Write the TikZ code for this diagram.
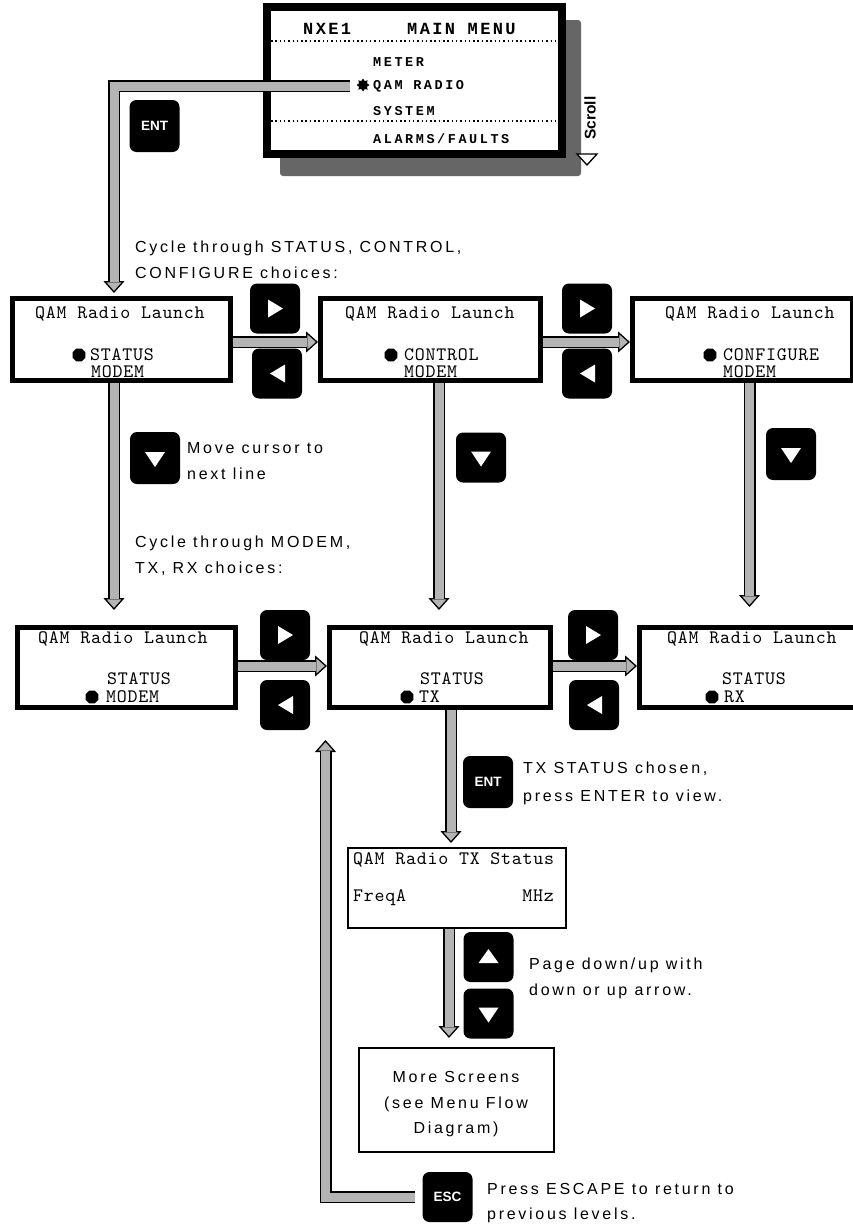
\documentclass[tikz,border=0pt]{standalone}
\usepackage{fontspec}
\setmainfont{Liberation Sans}
\newfontfamily\menuf[LetterSpace=14]{Liberation Mono}
\newfontfamily\itemf[LetterSpace=19]{Liberation Mono}
\newfontfamily\labf[LetterSpace=17]{Liberation Sans}
\newfontfamily\lcd[Extension=.otf, LetterSpace=4]{lmmono10-regular}
\usetikzlibrary{arrows.meta,shapes.geometric,calc}
\definecolor{shaft}{RGB}{180,180,180}
\definecolor{shadowgray}{RGB}{102,102,102}
\begin{document}
\begin{tikzpicture}[x=1pt,y=-1pt,
  screen/.style={draw, line width=5pt, fill=white, inner sep=0},
  thinbox/.style={draw, line width=2pt, fill=white, inner sep=0},
  lcdtext/.style={font=\lcd\fontsize{19}{21}\selectfont, inner sep=0, anchor=base west},
  menutitle/.style={font=\menuf\bfseries\fontsize{17}{20}\selectfont, inner sep=0, anchor=base west},
  menuitem/.style={font=\itemf\bfseries\fontsize{13.5}{16}\selectfont, inner sep=0, anchor=base west},
  lab/.style={font=\labf\fontsize{16}{18}\selectfont, inner sep=0, anchor=base west},
  labc/.style={font=\labf\fontsize{16}{18}\selectfont, inner sep=0, anchor=base},
  keyb/.style={fill=black, rounded corners=7pt, minimum width=50pt, minimum height=50pt, inner sep=0, text=white, font=\bfseries\fontsize{13.5}{14}\selectfont},
  rkey/.style={keyb, path picture={\fill[white,sharp corners] ($(path picture bounding box.center)+(-7,-9)$) -- ++(15,9) -- ++(-15,9) -- cycle;}},
  lkey/.style={keyb, path picture={\fill[white,sharp corners] ($(path picture bounding box.center)+(8,-9)$) -- ++(-15,9) -- ++(15,9) -- cycle;}},
  dkey/.style={keyb, path picture={\fill[white,sharp corners] ($(path picture bounding box.center)+(-10,-6)$) -- ++(20,0) -- ++(-10,15) -- cycle;}},
  ukey/.style={keyb, path picture={\fill[white,sharp corners] ($(path picture bounding box.center)+(-10,6)$) -- ++(20,0) -- ++(-10,-14) -- cycle;}},
  bul/.style={regular polygon, regular polygon sides=8, fill=black, minimum size=14pt, inner sep=0},
  mbul/.style={star, star points=8, star point ratio=1.5, fill=black, minimum size=13pt, inner sep=0},
  fat/.style={draw=black, line width=12pt, line join=miter,
    -{Triangle[width=21pt,length=12pt,line width=1.3pt,fill=shaft]},
    postaction={draw=shaft, line width=9pt, -, shorten >=11pt}},
  dotline/.style={line width=1.5pt, dash pattern=on 1.5pt off 2.8pt}
]
\useasboundingbox (0,0) rectangle (852,1226);
\fill[white] (0,0) rectangle (852,1226);

% ---------- main menu ----------
\fill[shadowgray, rounded corners=3pt] (280,20) rectangle (581,176);
\node[draw, line width=8pt, fill=white, inner sep=0, minimum width=295pt, minimum height=147pt] (mm) at (414.5,80.5) {};
\draw[dotline] ($(mm.north west)+(8,38)$) -- ($(mm.north east)+(-8,38)$);
\draw[dotline] ($(mm.north west)+(8,118)$) -- ($(mm.north east)+(-8,118)$);
\node[menutitle] (tnxe) at (303,34) {NXE1};
\node[menutitle] (tmain) at (407,34) {MAIN MENU};
\node[menuitem] (imeter) at (373,66) {METER};
\node[menuitem] (iqam) at (373,89) {QAM RADIO};
\node[menuitem] (isys) at (373,115) {SYSTEM};
\node[menuitem] (ialarm) at (373,143) {ALARMS/FAULTS};
\node[mbul] (mb) at (363,85) {};
\node[rotate=90, inner sep=0, font=\bfseries\fontsize{15.5}{16}\selectfont] (scroll) at (590,118) {Scroll};
\draw[line width=1.3pt, fill=white] (577,154) -- (597,154) -- (587,165) -- cycle;

\node[keyb, minimum height=52pt] (kent1) at (154.5,126) {ENT};

% ---------- row 1 screens ----------
\node[screen, minimum width=218pt, minimum height=82pt] (B1) at (121.5,339.5) {};
\node[screen, minimum width=220pt, minimum height=82pt] (B2) at (430.5,339.5) {};
\node[screen, minimum width=220pt, minimum height=82pt] (B3) at (742.5,339.5) {};
\node[lcdtext] (b1t) at (35,318) {QAM Radio Launch};
\node[lcdtext] (b1a) at (90,360) {STATUS};
\node[lcdtext] (b1b) at (91,377) {MODEM};
\node[bul] (b1c) at (79,355) {};
\node[lcdtext] (b2t) at (345,318) {QAM Radio Launch};
\node[lcdtext] (b2a) at (404,360) {CONTROL};
\node[lcdtext] (b2b) at (404,377) {MODEM};
\node[bul] (b2c) at (391,355) {};
\node[lcdtext] (b3t) at (665,318) {QAM Radio Launch};
\node[lcdtext] (b3a) at (723,360) {CONFIGURE};
\node[lcdtext] (b3b) at (723,377) {MODEM};
\node[bul] (b3c) at (710,355) {};

% ---------- row 2 screens ----------
\node[screen, minimum width=218pt, minimum height=80pt] (B4) at (126.5,667.5) {};
\node[screen, minimum width=221pt, minimum height=80pt] (B5) at (440,667.5) {};
\node[screen, minimum width=220pt, minimum height=80pt] (B6) at (749.5,667.5) {};
\node[lcdtext] (b4t) at (38,643) {QAM Radio Launch};
\node[lcdtext] (b4a) at (107,684) {STATUS};
\node[lcdtext] (b4b) at (106,702) {MODEM};
\node[bul] (b4c) at (92,697) {};
\node[lcdtext] (b5t) at (359,643) {QAM Radio Launch};
\node[lcdtext] (b5a) at (420,684) {STATUS};
\node[lcdtext] (b5b) at (419,702) {TX};
\node[bul] (b5c) at (407,697) {};
\node[lcdtext] (b6t) at (667,643) {QAM Radio Launch};
\node[lcdtext] (b6a) at (722,684) {STATUS};
\node[lcdtext] (b6b) at (724,702) {RX};
\node[bul] (b6c) at (712,697) {};

% ---------- status / more ----------
\node[thinbox, minimum width=218pt, minimum height=80pt] (st) at (457,888) {};
\node[lcdtext] (stt) at (353,864) {QAM Radio TX Status};
\node[lcdtext] (stf) at (353,901) {FreqA};
\node[lcdtext, anchor=base east] (stm) at (554,901) {MHz};
\node[thinbox, minimum width=195pt, minimum height=104pt] (more) at (456.5,1100) {};
\node[labc] (m1) at (456,1082) {More Screens};
\node[labc] (m2) at (456,1108) {(see Menu Flow};
\node[labc] (m3) at (456,1133) {Diagram)};

% ---------- keys ----------
\node[rkey] (kr1) at (275,308.5) {};
\node[lkey] (kl1) at (277,373.5) {};
\node[rkey] (kr2) at (587,308.5) {};
\node[lkey] (kl2) at (587,373.5) {};
\node[dkey, minimum height=52pt] (kd1) at (155,458) {};
\node[dkey] (kd2) at (481,457.5) {};
\node[dkey, minimum height=52pt] (kd3) at (791,454) {};
\node[rkey] (kr3) at (285,635) {};
\node[lkey] (kl3) at (285,705) {};
\node[rkey] (kr4) at (593,635) {};
\node[lkey] (kl4) at (594,705) {};
\node[keyb, minimum height=52pt] (kent2) at (488,782) {ENT};
\node[ukey] (ku) at (488.5,957) {};
\node[dkey] (kdn) at (488.5,1013.5) {};
\node[keyb] (kesc) at (447.5,1197) {ESC};

% ---------- labels ----------
\node[lab] (l1a) at (135,252) {Cycle through STATUS, CONTROL,};
\node[lab] (l1b) at (135,278) {CONFIGURE choices:};
\node[lab] (l2a) at (187,453) {Move cursor to};
\node[lab] (l2b) at (187,479) {next line};
\node[lab] (l3a) at (135,547) {Cycle through MODEM,};
\node[lab] (l3b) at (135,573) {TX, RX choices:};
\node[lab] (l4a) at (523,773) {TX STATUS chosen,};
\node[lab] (l4b) at (523,801) {press ENTER to view.};
\node[lab] (l5a) at (529,969) {Page down/up with};
\node[lab] (l5b) at (529,995) {down or up arrow.};
\node[lab] (l6a) at (487,1194) {Press ESCAPE to return to};
\node[lab] (l6b) at (487,1219) {previous levels.};

% ---------- connectors ----------
\coordinate (c1) at (114,0);
\coordinate (c2) at (439,0);
\coordinate (c3) at (749.5,0);
\coordinate (c5) at (451,0);
\coordinate (c6) at (449,0);
\coordinate (ce) at (325.5,0);
\coordinate (r1) at (0,342);
\coordinate (r2) at (0,666);

\draw[fat] ($(iqam.base west)+(-23,-3)$) -| ($(B1.north -| c1)+(0,-3)$);
\draw[fat] (B1.south -| c1) -- ($(B4.north -| c1)+(0,-15)$);
\draw[fat] (B2.south -| c2) -- ($(B5.north -| c2)+(0,-15)$);
\draw[fat] (B3.south -| c3) -- ($(B6.north -| c3)+(0,-18)$);
\draw[fat] (B1.east |- r1) -- (B2.west |- r1);
\draw[fat] (B2.east |- r1) -- (B3.west |- r1);
\draw[fat] (B4.east |- r2) -- (B5.west |- r2);
\draw[fat] (B5.east |- r2) -- (B6.west |- r2);
\draw[fat] (B5.south -| c5) -- ($(st.north -| c5)+(0,-4)$);
\draw[fat] (st.south -| c6) -- ($(more.north -| c6)+(0,-9)$);
\draw[fat] ($(kesc.west)+(-7,0)$) -| ($(B5.south -| ce)+(0,30)$);
\end{tikzpicture}
\end{document}
